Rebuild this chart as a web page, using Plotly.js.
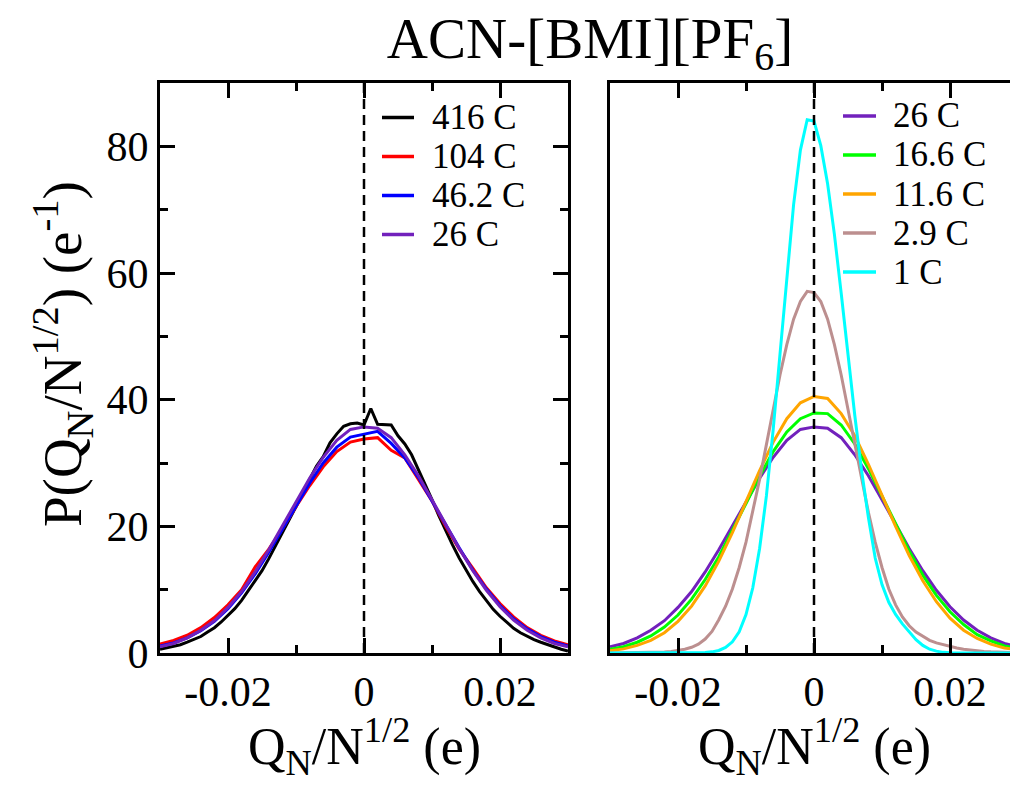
<!DOCTYPE html>
<html>
<head>
<meta charset="utf-8">
<script src="https://cdn.plot.ly/plotly-3.0.1.min.js"></script>
<style>
html, body { margin: 0; padding: 0; overflow: hidden; background: #ffffff; }
#chart { width: 1018px; height: 785px; }
</style>
</head>
<body>
<div id="chart"></div>
<script>
// ---------- data ----------
const xFine = [-0.030,-0.029,-0.028,-0.027,-0.026,-0.025,-0.024,-0.023,-0.022,-0.021,
  -0.020,-0.019,-0.018,-0.017,-0.016,-0.015,-0.014,-0.013,-0.012,-0.011,
  -0.010,-0.009,-0.008,-0.007,-0.006,-0.005,-0.004,-0.003,-0.002,-0.001,
  0.000,0.001,0.002,0.003,0.004,0.005,0.006,0.007,0.008,0.009,
  0.010,0.011,0.012,0.013,0.014,0.015,0.016,0.017,0.018,0.019,
  0.020,0.021,0.022,0.023,0.024,0.025,0.026,0.027,0.028,0.029,0.030];

const xCoarse = [-0.030,-0.028,-0.026,-0.024,-0.022,-0.020,-0.018,-0.016,-0.014,-0.012,
  -0.010,-0.008,-0.006,-0.004,-0.002,0.000,0.002,0.004,0.006,0.008,
  0.010,0.012,0.014,0.016,0.018,0.020,0.022,0.024,0.026,0.028,0.030];

// left panel
const y416C = [0.6,0.8,1.0,1.3,1.7,2.1,2.6,3.3,4.0,4.9,
  5.9,7.0,8.3,9.8,11.3,13.0,14.9,16.9,18.9,21.0,
  23.1,25.3,27.3,29.5,31.0,33.2,34.6,35.8,36.2,36.3,
  36.0,
  38.6,36.1,36.1,36.0,34.3,33.0,31.3,29.0,26.6,24.2,
  21.7,19.3,17.1,15.0,13.1,11.3,9.7,8.2,6.9,5.8,
  4.8,3.9,3.2,2.6,2.1,1.7,1.3,1.0,0.6,0.3];

const y104C = [1.4,2.0,2.8,4.0,5.6,7.6,10.0,13.6,16.4,19.6,
  23.1,26.4,29.4,31.8,33.3,33.8,34.0,32.0,30.8,27.5,
  24.0,20.0,16.4,13.4,10.3,7.8,5.7,4.0,2.8,1.9,1.3];

const y462C = [1.1,1.6,2.4,3.5,5.0,7.0,9.5,12.5,15.9,19.5,
  23.2,26.8,30.0,32.5,34.1,34.6,35.0,33.1,30.8,27.7,
  24.1,20.3,16.6,13.1,10.1,7.5,5.4,3.8,2.6,1.7,1.1];

// both panels
const y26C = [1.0,1.5,2.4,3.6,5.1,7.2,9.7,12.8,16.3,20.1,
  23.9,27.6,30.9,33.6,35.3,35.7,35.5,34.0,31.3,28.0,
  24.2,20.3,16.5,13.0,9.9,7.3,5.2,3.6,2.4,1.5,1.0];

// right panel
const y166C = [0.6,1.0,1.7,2.7,4.1,6.0,8.5,11.6,15.2,19.3,
  23.6,27.9,31.8,34.9,37.0,37.9,37.8,36.0,33.0,29.1,
  24.8,20.3,16.1,12.3,9.1,6.5,4.5,2.9,1.9,1.1,0.7];

const y116C = [0.35,0.65,1.2,2.0,3.2,5.0,7.4,10.6,14.5,19.0,
  23.9,28.8,33.3,37.0,39.5,40.5,40.2,37.8,34.3,29.8,
  24.9,20.0,15.4,11.4,8.1,5.5,3.6,2.3,1.4,0.8,0.45];

const y29C = [0.0,0.01,0.01,0.02,0.03,0.05,0.07,0.1,0.15,0.25,
  0.4,0.6,0.9,1.4,2.2,3.4,5.25,7.38,10.1,13.5,
  17.5,22.2,27.4,32.9,38.5,43.9,48.7,52.7,55.5,57.1,
  56.9,
  55.5,52.7,48.7,43.9,38.5,32.9,27.4,22.2,17.5,13.5,
  10.1,7.6,5.7,4.3,3.3,2.6,2.0,1.6,1.3,1.0,
  0.8,0.6,0.45,0.35,0.25,0.18,0.12,0.08,0.05,0.03];

const y1C = [0,0,0,0,0,0,0,0,0,0,
  0,0,0.01,0.03,0.08,0.18,0.40,0.87,1.76,3.36,
  6.06,10.3,16.5,24.8,35.3,47.2,59.6,70.8,79.4,84.2,
  84.0,
  80.1,74.1,66.1,56.8,47.0,37.5,28.8,21.4,15.0,10.8,
  8.0,6.1,4.6,3.3,2.1,1.2,0.6,0.3,0.1,0.05,
  0,0,0,0,0,0,0,0,0,0];

const leftLabels  = ['416 C', '104 C', '46.2 C', '26 C'];
const leftColors  = ['#000000', '#ff0000', '#0000ff', '#7221bc'];
const rightLabels = ['26 C', '16.6 C', '11.6 C', '2.9 C', '1 C'];
const rightColors = ['#7221bc', '#00ff00', '#ffa500', '#bc8f8f', '#00ffff'];

const xTickVals = [-0.02, 0, 0.02];
const xTickText = ['-0.02', '0', '0.02'];
const xMinorVals = [-0.01, 0.01];
const yTickVals = [0, 20, 40, 60, 80];
const yTickText = ['0', '20', '40', '60', '80'];
const yMinorVals = [10, 30, 50, 70];

const chartTitle = 'ACN-[BMI][PF<sub>6</sub>]';
const xTitle = 'Q<sub>N</sub>/N<sup>1/2</sup> (e)';
const yTitle = 'P(Q<sub>N</sub>/N<sup>1/2</sup>) (e<sup>-1</sup>)';

// ---------- build ----------
const FONT = 'Liberation Serif';
const W = 1018, H = 785, ML = 160, MR = 0, MT = 83, MB = 132;
const PW = W - ML - MR, PH = H - MT - MB;
const px2x = p => (p - ML) / PW;
const px2y = p => (MT + PH - p) / PH;

const leftSeries = [[xFine, y416C], [xCoarse, y104C], [xCoarse, y462C], [xCoarse, y26C]];
const rightSeries = [[xCoarse, y26C], [xCoarse, y166C], [xCoarse, y116C], [xFine, y29C], [xFine, y1C]];

const traces = [];
leftSeries.forEach((s, i) => traces.push({
  x: s[0], y: s[1], type: 'scatter', mode: 'lines', name: leftLabels[i],
  line: {color: leftColors[i], width: 3}, xaxis: 'x', yaxis: 'y',
  showlegend: false, hoverinfo: 'skip'
}));
rightSeries.forEach((s, i) => traces.push({
  x: s[0], y: s[1], type: 'scatter', mode: 'lines', name: rightLabels[i],
  line: {color: rightColors[i], width: 3}, xaxis: 'x2', yaxis: 'y2',
  showlegend: false, hoverinfo: 'skip'
}));

const tickFont = {family: FONT, size: 42, color: '#000'};
function xAxis(domain, anchor) {
  return {
    domain: domain, anchor: anchor, range: [-0.03, 0.03],
    tickmode: 'array', tickvals: xTickVals, ticktext: xTickText,
    ticks: 'inside', ticklen: 15, tickwidth: 3, tickcolor: '#000',
    minor: {tickmode: 'array', tickvals: xMinorVals, ticks: 'inside', ticklen: 8, tickwidth: 3, tickcolor: '#000'},
    showline: true, linewidth: 3, linecolor: '#000', mirror: 'ticks',
    showgrid: false, zeroline: false, tickfont: tickFont, fixedrange: true
  };
}
const yBase = {
  range: [0, 90], tickmode: 'array', tickvals: yTickVals, ticktext: yTickText,
  ticklen: 15, tickwidth: 3, tickcolor: '#000',
  minor: {tickmode: 'array', tickvals: yMinorVals, ticks: 'inside', ticklen: 8, tickwidth: 3, tickcolor: '#000'},
  showgrid: false, zeroline: false, tickfont: tickFont, fixedrange: true, linecolor: '#000', linewidth: 3
};

const leftEnd = (568 - ML) / PW;
const rightStart = (610 - ML) / PW;

const shapes = [
  {type: 'line', xref: 'x', yref: 'y domain', x0: 0, x1: 0, y0: 0, y1: 1,
   line: {color: '#000', width: 2.5, dash: '10px,6px'}},
  {type: 'line', xref: 'x2', yref: 'y2 domain', x0: 0, x1: 0, y0: 0, y1: 1,
   line: {color: '#000', width: 2.5, dash: '10px,6px'}}
];
const annotations = [];
const LEG_FONT = 35, LEG_GAP = 39;
const leftRows = leftLabels.map((_, i) => 176 + (i - (leftLabels.length - 1) / 2) * LEG_GAP);
const rightRows = rightLabels.map((_, i) => 194 + (i - (rightLabels.length - 1) / 2) * LEG_GAP);
leftLabels.forEach((lab, i) => {
  shapes.push({type: 'line', xref: 'paper', yref: 'paper',
    x0: px2x(382), x1: px2x(414), y0: px2y(leftRows[i]), y1: px2y(leftRows[i]),
    line: {color: leftColors[i], width: 3.5}});
  annotations.push({xref: 'paper', yref: 'paper', x: px2x(431), y: px2y(leftRows[i]),
    xanchor: 'left', yanchor: 'middle', showarrow: false, text: lab, borderpad: 0,
    font: {family: FONT, size: LEG_FONT, color: '#000'}});
});
rightLabels.forEach((lab, i) => {
  shapes.push({type: 'line', xref: 'paper', yref: 'paper',
    x0: px2x(843), x1: px2x(876), y0: px2y(rightRows[i]), y1: px2y(rightRows[i]),
    line: {color: rightColors[i], width: 3.5}});
  annotations.push({xref: 'paper', yref: 'paper', x: px2x(892), y: px2y(rightRows[i]),
    xanchor: 'left', yanchor: 'middle', showarrow: false, text: lab, borderpad: 0,
    font: {family: FONT, size: LEG_FONT, color: '#000'}});
});
// axis titles
annotations.push({xref: 'x', yref: 'paper', x: 0, y: px2y(746), xanchor: 'center', yanchor: 'middle',
  showarrow: false, text: xTitle, borderpad: 0, font: {family: FONT, size: 52, color: '#000'}});
annotations.push({xref: 'x2', yref: 'paper', x: 0, y: px2y(746), xanchor: 'center', yanchor: 'middle',
  showarrow: false, text: xTitle, borderpad: 0, font: {family: FONT, size: 52, color: '#000'}});
annotations.push({xref: 'paper', yref: 'paper', x: px2x(62), y: px2y(354), xanchor: 'center', yanchor: 'middle',
  textangle: -90, showarrow: false, text: yTitle, borderpad: 0, font: {family: FONT, size: 55, color: '#000'}});

const layout = {
  width: W, height: H, autosize: false,
  margin: {l: ML, r: MR, t: MT, b: MB, pad: 0},
  paper_bgcolor: '#ffffff', plot_bgcolor: '#ffffff',
  showlegend: false,
  title: {text: chartTitle, x: 590 / W, xref: 'container', xanchor: 'center',
          y: 1 - 38 / H, yref: 'container', yanchor: 'middle',
          font: {family: FONT, size: 57, color: '#000'}},
  xaxis: xAxis([0, leftEnd], 'y'),
  xaxis2: xAxis([rightStart, 1], 'y2'),
  yaxis: Object.assign({}, yBase, {domain: [0, 1], anchor: 'x', ticks: 'inside', showline: true, mirror: 'ticks', showticklabels: true}),
  yaxis2: Object.assign({}, yBase, {domain: [0, 1], anchor: 'x2', ticks: '', minor: {ticks: ''}, showline: true, mirror: false, showticklabels: false}),
  yaxis3: Object.assign({}, yBase, {anchor: 'x2', overlaying: 'y2', side: 'right', ticks: 'inside', showline: false, showticklabels: false}),
  shapes: shapes,
  annotations: annotations
};

Plotly.newPlot('chart', traces, layout, {staticPlot: true, displayModeBar: false});
</script>
</body>
</html>
